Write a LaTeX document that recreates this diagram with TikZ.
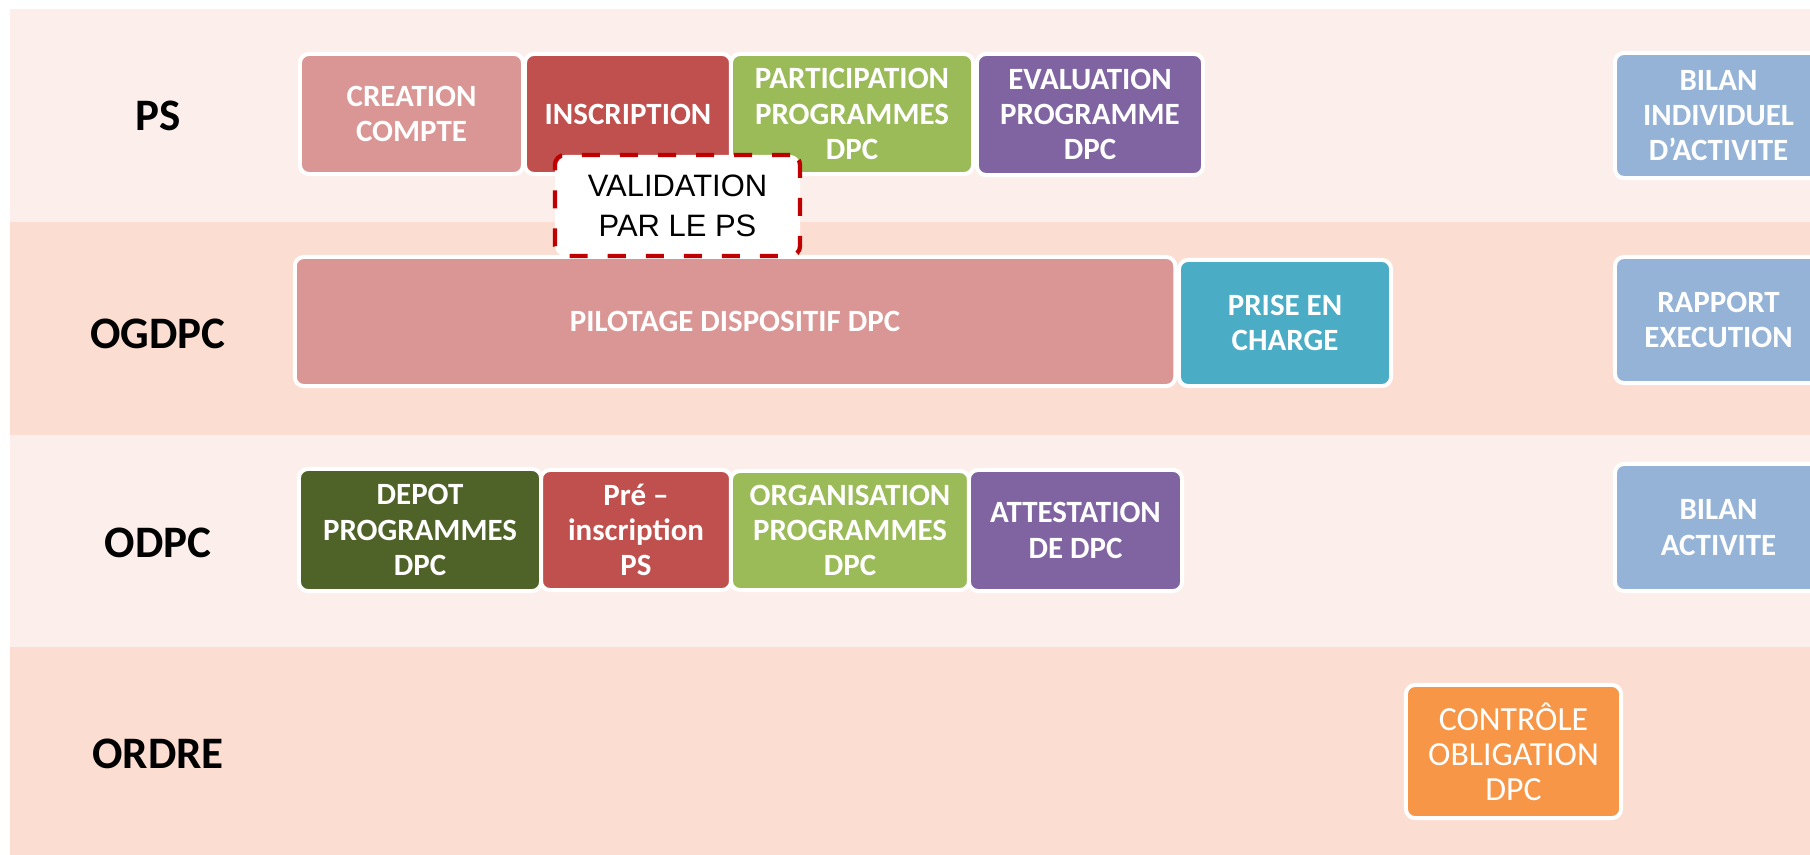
\documentclass[tikz,border=0pt]{standalone}
\usepackage{fontspec}
\setmainfont{Carlito}
\newfontfamily\arialfont{Liberation Sans}
\usetikzlibrary{positioning}
\definecolor{laneA}{HTML}{FCEEEA}
\definecolor{laneB}{HTML}{FBDDD1}
\definecolor{cRose}{HTML}{D99694}
\definecolor{cBrique}{HTML}{C0504D}
\definecolor{cVert}{HTML}{9BBB59}
\definecolor{cOlive}{HTML}{4F6228}
\definecolor{cViolet}{HTML}{8064A2}
\definecolor{cBleu}{HTML}{95B3D7}
\definecolor{cTurquoise}{HTML}{4BACC6}
\definecolor{cOrange}{HTML}{F79646}
\definecolor{cValid}{HTML}{C00000}
\tikzset
{
lane/.style={fill=#1, draw=none},
actor/.style={font=\bfseries\fontsize{12.8}{15}\selectfont, text=black},
etape/.style={draw=white, line width=0.04cm, rounded corners=0.09cm, fill=#1, text=white,
	inner sep=0pt, align=center, font=\bfseries\fontsize{8.8}{10}\selectfont},
valid/.style={draw=cValid, dash pattern=on 0.18cm off 0.2cm, line width=0.043cm,
	rounded corners=0.1cm, fill=white, inner sep=0pt, align=center,
	font=\arialfont\fontsize{8.8}{11.4}\selectfont}
}
\begin{document}
\begin{tikzpicture}[x=0.01cm, y=-0.01cm]
	\useasboundingbox (0,0) rectangle (1810,855);
	\clip (0,0) rectangle (1810,855);
	% couloirs
	\fill[lane=laneA] (10,9) rectangle (1810,222);
	\fill[lane=laneB] (10,222) rectangle (1810,435);
	\fill[lane=laneA] (10,435) rectangle (1810,647);
	\fill[lane=laneB] (10,647) rectangle (1810,855);

	\node[actor] (ps) at (158,116) {PS};
	\node[actor] (ogdpc) at (158,334) {OGDPC};
	\node[actor] (odpc) at (158,543) {ODPC};
	\node[actor] (ordre) at (158,754) {ORDRE};

	% PS
	\node[etape=cBrique, minimum width=2.06cm, minimum height=1.2cm] (inscr) at (628,114) {INSCRIPTION};
	\node[etape=cRose, minimum width=2.23cm, minimum height=1.2cm] (creation) at (411.5,114) {CREATION\\COMPTE};
	\node[etape=cVert, minimum width=2.42cm, minimum height=1.2cm] (particip) at (852,114) {PARTICIPATION\\PROGRAMMES\\DPC};
	\node[etape=cViolet, minimum width=2.26cm, minimum height=1.21cm] (evalprog) at (1090,114.5) {EVALUATION\\PROGRAMME\\DPC};
	\node[etape=cBleu, minimum width=2.07cm, minimum height=1.25cm] (bilanps) at (1718.5,115.5) {BILAN\\INDIVIDUEL\\D’ACTIVITE};

	% OGDPC
	\node[etape=cRose, minimum width=8.8cm, minimum height=1.29cm] (pilotage) at (735,321.5) {PILOTAGE DISPOSITIF DPC};
	\node[etape=cTurquoise, minimum width=2.12cm, minimum height=1.26cm] (prise) at (1285,323) {PRISE EN\\CHARGE};
	\node[etape=cBleu, minimum width=2.07cm, minimum height=1.26cm] (rapport) at (1718.5,320) {RAPPORT\\EXECUTION};

	\node[valid, minimum width=2.45cm, minimum height=1.01cm] (validation) at (677.5,205.5) {VALIDATION\\PAR LE PS};

	% ODPC
	\node[etape=cBrique, minimum width=1.9cm, minimum height=1.2cm] (preinscr) at (636,530) {Pré –\\inscription\\PS};
	\node[etape=cOlive, minimum width=2.42cm, minimum height=1.22cm] (depot) at (420,530) {DEPOT\\PROGRAMMES\\DPC};
	\node[etape=cVert, minimum width=2.38cm, minimum height=1.19cm] (organis) at (850,530.5) {ORGANISATION\\PROGRAMMES\\DPC};
	\node[etape=cViolet, minimum width=2.13cm, minimum height=1.21cm] (attest) at (1075.5,530.5) {ATTESTATION\\DE DPC};
	\node[etape=cBleu, minimum width=2.07cm, minimum height=1.27cm] (bilanodpc) at (1718.5,527.5) {BILAN\\ACTIVITE};

	% ORDRE
	\node[etape=cOrange, minimum width=2.15cm, minimum height=1.33cm,
		font=\fontsize{9.6}{10}\selectfont] (controle) at (1513.5,751.5) {CONTRÔLE\\OBLIGATION\\DPC};
\end{tikzpicture}
\end{document}
